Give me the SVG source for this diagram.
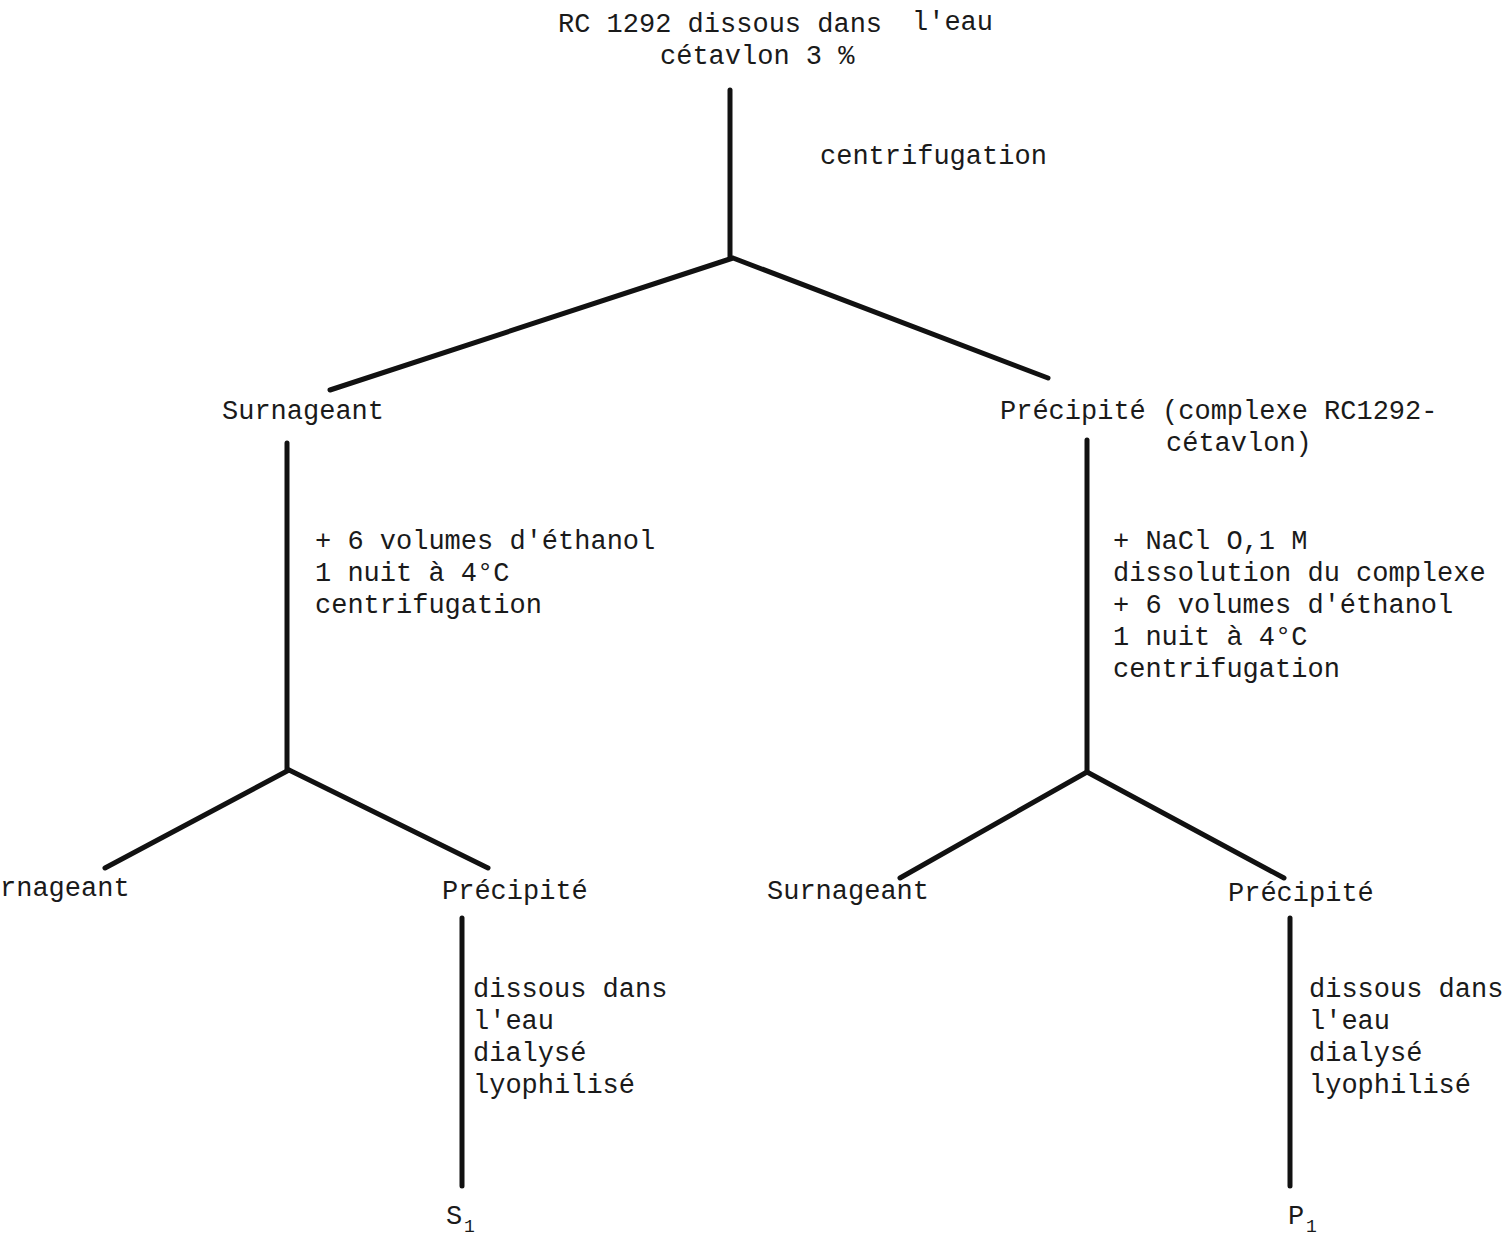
<svg xmlns="http://www.w3.org/2000/svg" width="1506" height="1236" viewBox="0 0 1506 1236">
<style>
text{font-family:"Liberation Mono","DejaVu Sans Mono",monospace;font-size:27px;fill:#1a1a1a}
.sub{font-size:18px}
.ln{stroke:#111;stroke-width:5;stroke-linecap:round;fill:none}
</style>
<rect width="1506" height="1236" fill="#fff"/>
<g id="connectors">
<path class="ln" d="M730 90V258"/>
<path class="ln" d="M733 258L330 390M733 258L1048 378"/>
<path class="ln" d="M287 443V770"/>
<path class="ln" d="M289 770L105 868M289 770L488 868"/>
<path class="ln" d="M1087 440V772"/>
<path class="ln" d="M1087 772L900 878M1087 772L1284 878"/>
<path class="ln" d="M462 918V1186"/>
<path class="ln" d="M1290 918V1186"/>
</g>
<g id="root"><text x="558" y="32">RC 1292 dissous dans</text><text x="912" y="30">l'eau</text><text x="660" y="64">cétavlon 3 %</text></g>
<g id="step1"><text x="820" y="164">centrifugation</text></g>
<g id="surnageant1"><text x="222" y="419">Surnageant</text></g>
<g id="precipite1"><text x="1000" y="419">Précipité (complexe RC1292-</text><text x="1166" y="451">cétavlon)</text></g>
<g id="step2a"><text x="315" y="549">+ 6 volumes d'éthanol</text><text x="315" y="581">1 nuit à 4°C</text><text x="315" y="613">centrifugation</text></g>
<g id="step2b"><text x="1113" y="549">+ NaCl O,1 M</text><text x="1113" y="581">dissolution du complexe</text><text x="1113" y="613">+ 6 volumes d'éthanol</text><text x="1113" y="645">1 nuit à 4°C</text><text x="1113" y="677">centrifugation</text></g>
<g id="surnageant2"><text x="0" y="896">rnageant</text></g>
<g id="precipite2"><text x="442" y="899">Précipité</text></g>
<g id="surnageant3"><text x="767" y="899">Surnageant</text></g>
<g id="precipite3"><text x="1228" y="901">Précipité</text></g>
<g id="step3a"><text x="473" y="997">dissous dans</text><text x="473" y="1029">l'eau</text><text x="473" y="1061">dialysé</text><text x="473" y="1093">lyophilisé</text></g>
<g id="step3b"><text x="1309" y="997">dissous dans</text><text x="1309" y="1029">l'eau</text><text x="1309" y="1061">dialysé</text><text x="1309" y="1093">lyophilisé</text></g>
<g id="S1"><text x="446" y="1224">S</text><text class="sub" x="464" y="1232">1</text></g>
<g id="P1"><text x="1288" y="1224">P</text><text class="sub" x="1306" y="1232">1</text></g>
</svg>
